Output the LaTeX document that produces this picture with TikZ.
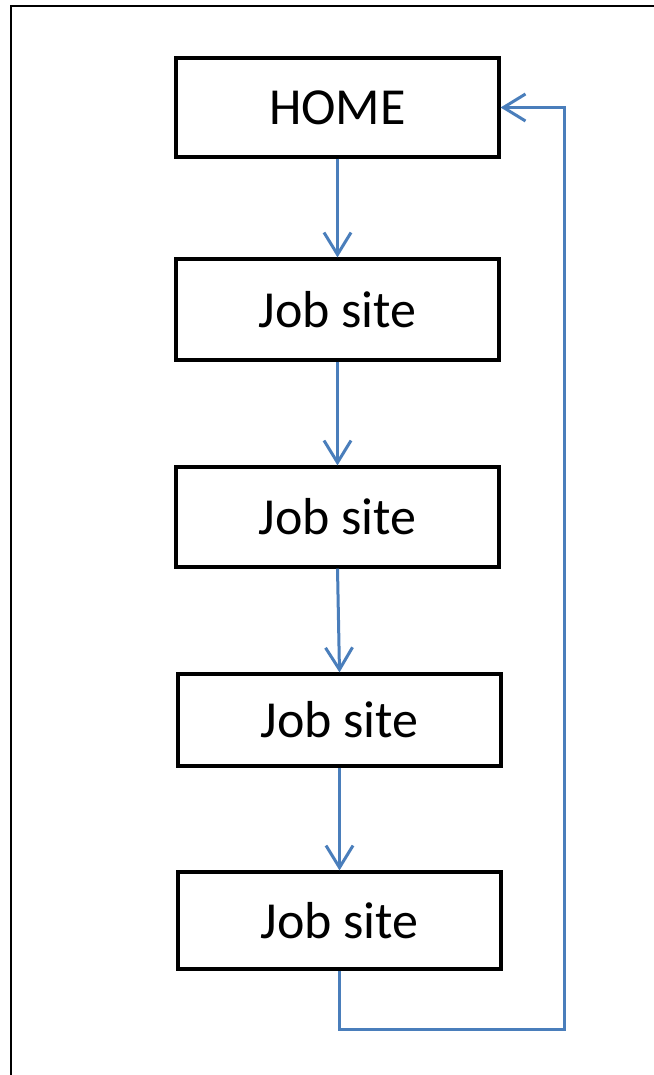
\documentclass[tikz,border=0pt]{standalone}
\usepackage{fontspec}
\setmainfont{Carlito}
\usetikzlibrary{arrows.meta}
\definecolor{lineblue}{RGB}{74,126,187}
\tikzset{
  sitebox/.style={draw=black, line width=3.2pt, inner sep=0pt, minimum width=323pt,
    font=\fontsize{52}{62}\selectfont},
  flow/.style={draw=lineblue, line width=3pt,
    -{Straight Barb[length=22pt, width=27pt, line width=3pt]}},
}
\begin{document}
\begin{tikzpicture}[x=1pt, y=-1pt]
  \useasboundingbox (0,0) rectangle (653,1075);
  \fill[white] (0,0) rectangle (653,1075);
  \draw[line width=2.2pt] (11,1090) |- (670,6);
  \node[sitebox, minimum height=99pt]  (home) at (337.5,107.5) {HOME};
  \node[sitebox, minimum height=101pt] (j1)   at (337.5,309.5) {Job site};
  \node[sitebox, minimum height=100pt] (j2)   at (337.5,517)   {Job site};
  \node[sitebox, minimum height=92pt]  (j3)   at (339.5,720)   {Job site};
  \node[sitebox, minimum height=97pt]  (j4)   at (339.5,920.5) {Job site};
  \coordinate (ret) at (564,1029);
  \draw[flow] (home.south) -- (j1.north);
  \draw[flow] (j1.south) -- (j2.north);
  \draw[flow] (j2.south) -- (j3.north);
  \draw[flow] (j3.south) -- (j4.north);
  \draw[flow] (j4.south) |- (ret) |- (home.east);
\end{tikzpicture}
\end{document}
